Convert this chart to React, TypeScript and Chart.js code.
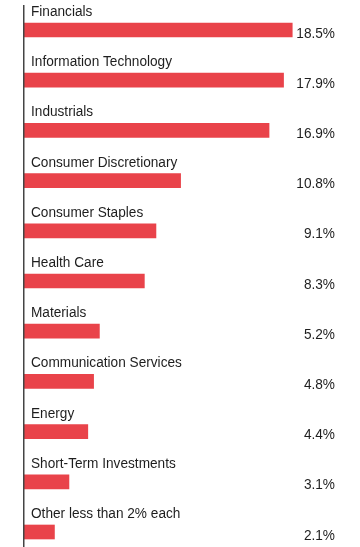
import { useEffect, useRef } from "react";
import { Chart, registerables } from "chart.js";

Chart.register(...registerables);

// Sector weights, in percent of the portfolio
const sectors = [
  "Financials",
  "Information Technology",
  "Industrials",
  "Consumer Discretionary",
  "Consumer Staples",
  "Health Care",
  "Materials",
  "Communication Services",
  "Energy",
  "Short-Term Investments",
  "Other less than 2% each",
];
const weights = [18.5, 17.9, 16.9, 10.8, 9.1, 8.3, 5.2, 4.8, 4.4, 3.1, 2.1];
const weightLabels = ["18.5%", "17.9%", "16.9%", "10.8%", "9.1%", "8.3%", "5.2%", "4.8%", "4.4%", "3.1%", "2.1%"];

const WIDTH = 360;
const HEIGHT = 547;
const FONT = '"Liberation Sans", Arial, sans-serif';
const FONT_SIZE = 15.5;
const CONDENSE = 0.88; // horizontal squeeze for a narrow face
const BAR_COLOR = "#E9434A";
const TEXT_COLOR = "#1e1e1e";

function drawNarrow(ctx: CanvasRenderingContext2D, text: string, x: number, y: number, align: "left" | "right") {
  ctx.save();
  ctx.translate(x, y);
  ctx.scale(CONDENSE, 1);
  ctx.textAlign = align;
  ctx.fillText(text, 0, 0);
  ctx.restore();
}

// Draws the vertical baseline, the sector names above each bar and the weights at the right
const labelPlugin = {
  id: "sectorLabels",
  afterDatasetsDraw(chart: any) {
    const { ctx, chartArea } = chart;
    const meta = chart.getDatasetMeta(0);
    ctx.save();
    ctx.fillStyle = "#444444";
    ctx.fillRect(chartArea.left - 1, 5, 1.5, HEIGHT - 5);

    ctx.fillStyle = TEXT_COLOR;
    ctx.font = `${FONT_SIZE}px ${FONT}`;
    ctx.textBaseline = "alphabetic";
    meta.data.forEach((bar: any, i: number) => {
      drawNarrow(ctx, sectors[i], chartArea.left + 7, bar.y - 14, "left");
      drawNarrow(ctx, weightLabels[i], 335, bar.y + 7.5, "right");
    });
    ctx.restore();
  },
};

export default function App() {
  const canvasRef = useRef<HTMLCanvasElement | null>(null);

  useEffect(() => {
    const canvas = canvasRef.current;
    if (!canvas) return;
    const chart = new Chart(canvas, {
      type: "bar",
      data: {
        labels: sectors,
        datasets: [
          {
            data: weights,
            backgroundColor: BAR_COLOR,
            borderWidth: 0,
            barThickness: 14,
            clip: false,
          } as any,
        ],
      },
      options: {
        indexAxis: "y",
        responsive: false,
        animation: false,
        devicePixelRatio: 1,
        layout: { padding: { left: 24, right: 46, top: 30, bottom: 15 } },
        plugins: {
          legend: { display: false },
          tooltip: { enabled: false },
          title: { display: false },
        },
        scales: {
          x: { display: false, min: 0, max: 20 },
          y: { display: false, offset: false },
        },
      },
      plugins: [labelPlugin],
    });
    return () => chart.destroy();
  }, []);

  return (
    <div style={{ position: "fixed", left: 0, top: 0, width: WIDTH, height: HEIGHT, background: "#ffffff" }}>
      <canvas ref={canvasRef} width={WIDTH} height={HEIGHT} style={{ width: WIDTH, height: HEIGHT, display: "block" }} />
    </div>
  );
}
